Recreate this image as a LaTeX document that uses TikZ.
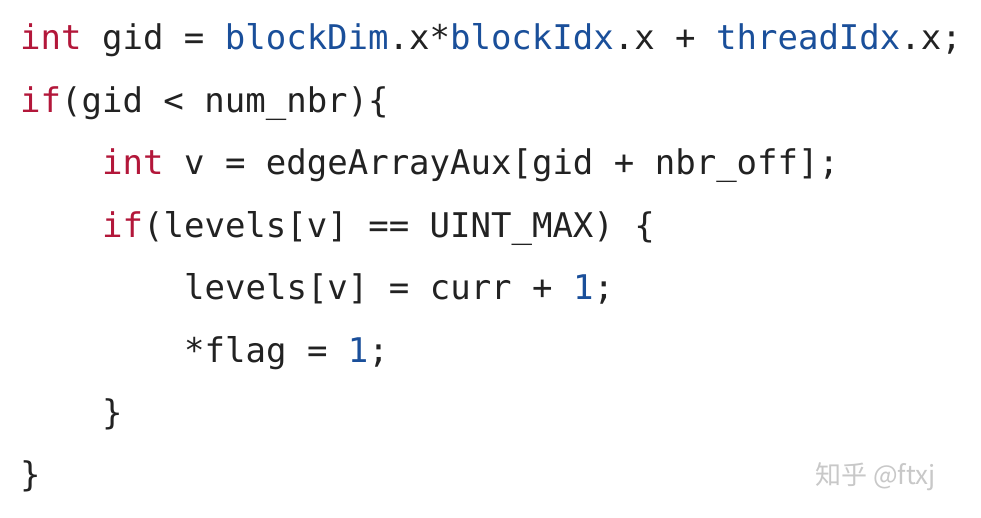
\documentclass[tikz,border=0pt]{standalone}
\usepackage{fontspec}
\setmonofont{DejaVu Sans Mono}
\newfontfamily\cjk{Noto Sans CJK SC}
\definecolor{kw}{HTML}{B3173A}
\definecolor{id}{HTML}{1A4F9A}
\definecolor{tx}{HTML}{222222}
\definecolor{wm}{HTML}{C8C8C8}
\newcommand{\K}[1]{\textcolor{kw}{#1}}
\newcommand{\B}[1]{\textcolor{id}{#1}}
\begin{document}
\begin{tikzpicture}[x=1pt,y=1pt,
  code/.style={anchor=base west,inner sep=0pt,font=\fontsize{34}{40}\ttfamily,text=tx}]
\useasboundingbox[fill=white] (0,0) rectangle (981,-518);
\node[code] (l1) at (20,-50) {\K{int} gid = \B{blockDim}.x*\B{blockIdx}.x + \B{threadIdx}.x;};
\node[code] (l2) at (20,-112.4) {\K{if}(gid < num\_nbr)\{};
\node[code] (l3) at (102,-174.8) {\K{int} v = edgeArrayAux[gid + nbr\_off];};
\node[code] (l4) at (102,-237.2) {\K{if}(levels[v] == UINT\_MAX) \{};
\node[code] (l5) at (184,-299.6) {levels[v] = curr + \B{1};};
\node[code] (l6) at (184,-362) {*flag = \B{1};};
\node[code] (l7) at (102,-424.4) {\}};
\node[code] (l8) at (20,-486.8) {\}};
\node[anchor=base west,inner sep=0pt,text=wm,font=\cjk\fontsize{26}{30}\selectfont] (wm) at (815,-484) {知乎 @ftxj};
\end{tikzpicture}
\end{document}
